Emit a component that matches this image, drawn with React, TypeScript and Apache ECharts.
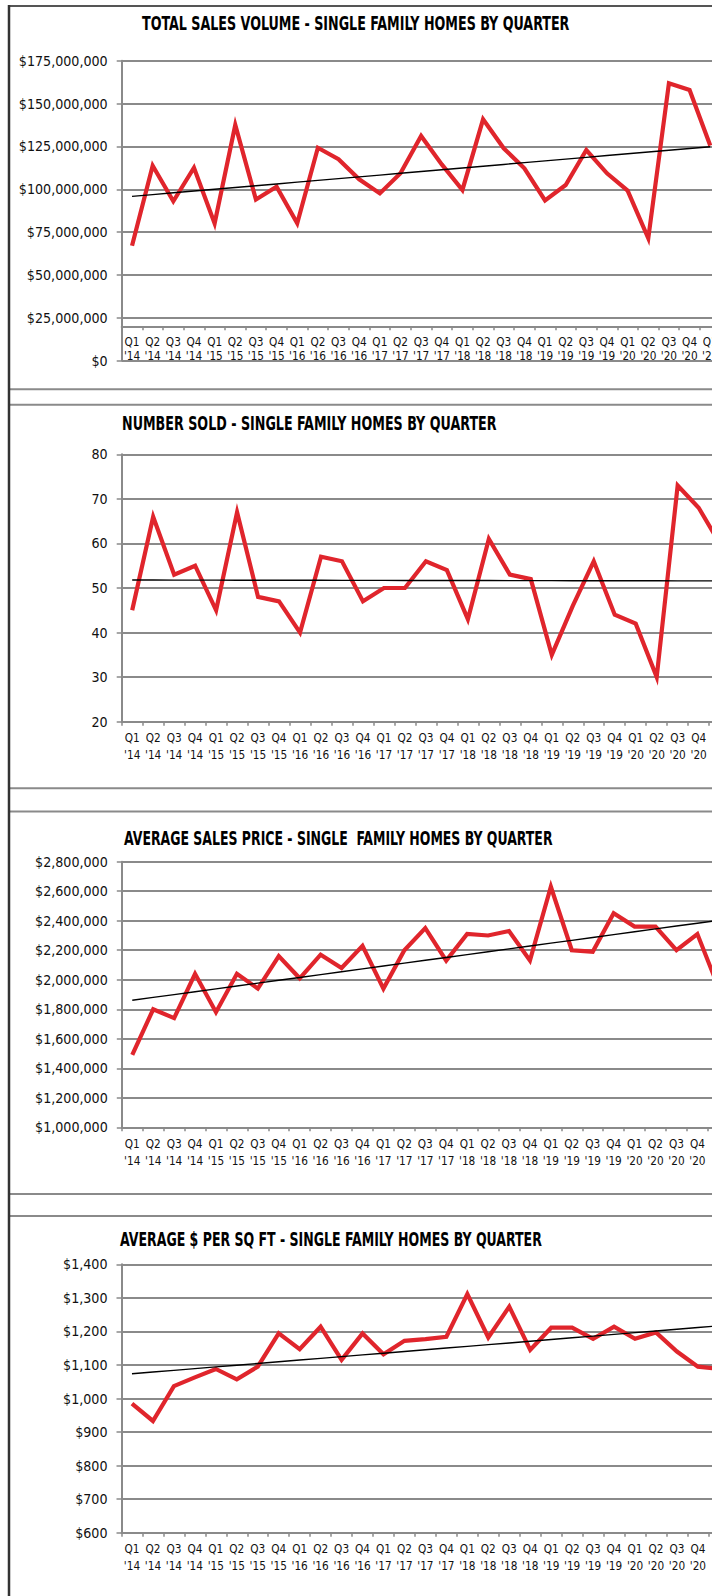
import React, { useEffect, useRef } from "react";
import * as echarts from "echarts";

// ---------- data ----------
const quarterLabels = [
  "Q1", "Q2", "Q3", "Q4", "Q1", "Q2", "Q3", "Q4", "Q1", "Q2", "Q3", "Q4", "Q1", "Q2", "Q3",
  "Q4", "Q1", "Q2", "Q3", "Q4", "Q1", "Q2", "Q3", "Q4", "Q1", "Q2", "Q3", "Q4", "Q1",
];
const yearLabels = [
  "'14", "'14", "'14", "'14", "'15", "'15", "'15", "'15", "'16", "'16", "'16", "'16", "'17", "'17", "'17",
  "'17", "'18", "'18", "'18", "'18", "'19", "'19", "'19", "'19", "'20", "'20", "'20", "'20", "'21",
];

const totalSalesVolume = [
  67100000, 113700000, 93000000, 112600000, 80100000, 137500000, 94000000, 101500000,
  80100000, 124200000, 117500000, 105800000, 97600000, 109300000, 131100000, 114500000,
  99600000, 140800000, 123900000, 112200000, 93500000, 102500000, 122900000, 109300000,
  99200000, 71400000, 161800000, 157900000, 125500000,
];
const numberSold = [
  45, 66, 53, 55, 45, 67, 48, 47, 40, 57, 56, 47, 50, 50, 56, 54, 43, 61, 53, 52, 35, 46, 56, 44,
  42, 30, 73, 68, 60,
];
const avgSalesPrice = [
  1490000, 1800000, 1740000, 2040000, 1780000, 2040000, 1940000, 2160000, 2010000, 2170000,
  2080000, 2230000, 1940000, 2200000, 2350000, 2130000, 2310000, 2300000, 2330000, 2130000,
  2630000, 2200000, 2190000, 2450000, 2360000, 2360000, 2200000, 2310000, 1950000,
];
const avgPerSqFt = [
  985, 933, 1037, 1063, 1088, 1057, 1095, 1194, 1147, 1214, 1115, 1194, 1132, 1172, 1177, 1184,
  1311, 1182, 1274, 1145, 1211, 1211, 1178, 1214, 1178, 1197, 1140, 1095, 1088,
];

const titles = [
  "TOTAL SALES VOLUME - SINGLE FAMILY HOMES BY QUARTER",
  "NUMBER SOLD - SINGLE FAMILY HOMES BY QUARTER",
  "AVERAGE SALES PRICE - SINGLE  FAMILY HOMES BY QUARTER",
  "AVERAGE $ PER SQ FT - SINGLE FAMILY HOMES BY QUARTER",
];

// ---------- helpers ----------
const categories = quarterLabels.map((q, i) => q + "\n" + yearLabels[i]);

function linearTrend(vals: number[]): number[] {
  const n = vals.length;
  const mx = (n - 1) / 2;
  const my = vals.reduce((a, b) => a + b, 0) / n;
  let sxy = 0;
  let sxx = 0;
  vals.forEach((v, i) => {
    sxy += (i - mx) * (v - my);
    sxx += (i - mx) * (i - mx);
  });
  const slope = sxy / sxx;
  return vals.map((_, i) => my + slope * (i - mx));
}

const dollar = (v: number) => "$" + Math.round(v).toLocaleString("en-US");
const plain = (v: number) => String(v);

const LABEL_FONT =
  "'Liberation Sans Narrow', 'Arial Narrow', 'DejaVu Sans Condensed', 'Liberation Sans', sans-serif";
const TITLE_FONT = "'DejaVu Sans Condensed', 'DejaVu Sans', sans-serif";
const RED = "#e0252c";
const GRID_GRAY = "#8a8a8a";

// layout of the four panels (page pixel coordinates)
const panels = [
  { data: totalSalesVolume, min: 0, max: 175000000, interval: 25000000, fmt: dollar,
    left: 121.7, top: 60.7, height: 300, step: 20.65, xOffset: -34.4, xMargin: 9, xLine: 14,
    showLast: true, title: { x0: 142, x1: 570, y: 23 } },
  { data: numberSold, min: 20, max: 80, interval: 10, fmt: plain,
    left: 121.7, top: 454.3, height: 267.4, step: 20.98, xOffset: 0, xMargin: 7.5, xLine: 17.5,
    showLast: false, title: { x0: 122, x1: 497, y: 422.7 } },
  { data: avgSalesPrice, min: 1000000, max: 2800000, interval: 200000, fmt: dollar,
    left: 121.8, top: 861.7, height: 265.6, step: 20.93, xOffset: 0, xMargin: 7.5, xLine: 17.5,
    showLast: false, title: { x0: 124, x1: 553, y: 838.3 } },
  { data: avgPerSqFt, min: 600, max: 1400, interval: 100, fmt: dollar,
    left: 121.5, top: 1264.3, height: 268.4, step: 20.96, xOffset: 0, xMargin: 7.5, xLine: 17.5,
    showLast: false, title: { x0: 120, x1: 542, y: 1240 } },
];

function measure(text: string, font: string): number {
  const c = document.createElement("canvas").getContext("2d");
  if (!c) return text.length * 10;
  c.font = font;
  return c.measureText(text).width;
}

// pick a font size so that a sample string has a given width
function fitSize(sample: string, width: number, family: string, maxSize: number): number {
  const w100 = measure(sample, `100px ${family}`);
  if (!w100) return maxSize;
  return Math.min(maxSize, (width / w100) * 100);
}

function buildOption() {
  const grid: any[] = [];
  const xAxis: any[] = [];
  const yAxis: any[] = [];
  const series: any[] = [];
  const graphic: any[] = [];

  const yFont = fitSize("$175,000,000", 89, LABEL_FONT, 17);
  const xFont = fitSize("Q2", 15, LABEL_FONT, 14);

  panels.forEach((p, i) => {
    grid.push({
      left: p.left,
      top: p.top,
      height: p.height,
      width: p.step * categories.length,
      containLabel: false,
      outerBoundsMode: "none",
    });
    xAxis.push({
      type: "category",
      gridIndex: i,
      data: categories,
      boundaryGap: true,
      offset: p.xOffset,
      axisLine: { show: true, lineStyle: { color: GRID_GRAY, width: 2 } },
      axisTick: { show: true, length: 4, lineStyle: { color: GRID_GRAY, width: 1.5 } },
      axisLabel: {
        interval: 0,
        color: "#111",
        fontFamily: LABEL_FONT,
        fontSize: xFont,
        lineHeight: p.xLine,
        margin: p.xMargin,
        hideOverlap: false,
        formatter: (v: string, idx: number) =>
          !p.showLast && idx === categories.length - 1 ? "" : v,
      },
      splitLine: { show: false },
    });
    yAxis.push({
      type: "value",
      gridIndex: i,
      min: p.min,
      max: p.max,
      interval: p.interval,
      axisLine: { show: true, lineStyle: { color: GRID_GRAY, width: 2 } },
      axisTick: { show: true, length: 5, lineStyle: { color: GRID_GRAY, width: 1.5 } },
      axisLabel: {
        color: "#111",
        fontFamily: LABEL_FONT,
        fontSize: yFont,
        margin: 14,
        formatter: (v: number) => p.fmt(v),
      },
      splitLine: { show: true, lineStyle: { color: GRID_GRAY, width: 2 } },
    });
    series.push({
      type: "line",
      xAxisIndex: i,
      yAxisIndex: i,
      data: p.data,
      symbol: "none",
      showSymbol: false,
      lineStyle: { color: RED, width: 4.2, join: "miter", miterLimit: 6 },
      z: 3,
    });
    series.push({
      type: "line",
      xAxisIndex: i,
      yAxisIndex: i,
      data: linearTrend(p.data),
      symbol: "none",
      showSymbol: false,
      lineStyle: { color: "#000", width: 1.4 },
      z: 4,
    });

    const titleFontSize = 19;
    const w = measure(titles[i], `bold ${titleFontSize}px ${TITLE_FONT}`);
    graphic.push({
      type: "text",
      x: p.title.x0,
      y: p.title.y,
      scaleX: (p.title.x1 - p.title.x0) / w,
      style: {
        text: titles[i],
        fontFamily: TITLE_FONT,
        fontWeight: "bold",
        fontSize: titleFontSize,
        fill: "#000",
        textAlign: "left",
        textVerticalAlign: "middle",
      },
      z: 10,
    });
  });

  // panel frame lines
  const hLines = [
    { y: 6, color: "#555", w: 2 },
    { y: 389.3, color: "#8a8a8a", w: 2 },
    { y: 404.8, color: "#8a8a8a", w: 2 },
    { y: 788.3, color: "#8a8a8a", w: 2 },
    { y: 811.5, color: "#8a8a8a", w: 2 },
    { y: 1194, color: "#8a8a8a", w: 2 },
    { y: 1216, color: "#8a8a8a", w: 2 },
  ];
  hLines.forEach((l) =>
    graphic.push({
      type: "line",
      shape: { x1: 9, y1: l.y, x2: 712, y2: l.y },
      style: { stroke: l.color, lineWidth: l.w },
      z: 5,
    })
  );
  graphic.push({
    type: "line",
    shape: { x1: 9, y1: 5, x2: 9, y2: 1596 },
    style: { stroke: "#333", lineWidth: 2.5 },
    z: 5,
  });

  return {
    animation: false,
    backgroundColor: "#fff",
    grid,
    xAxis,
    yAxis,
    series,
    graphic,
  };
}

export default function App() {
  const ref = useRef<HTMLDivElement>(null);
  useEffect(() => {
    if (!ref.current) return;
    const chart = echarts.init(ref.current, null, { renderer: "svg" });
    chart.setOption(buildOption() as any);
    return () => chart.dispose();
  }, []);
  return (
    <div
      ref={ref}
      style={{ position: "absolute", left: 0, top: 0, width: 712, height: 1596, background: "#fff" }}
    />
  );
}
